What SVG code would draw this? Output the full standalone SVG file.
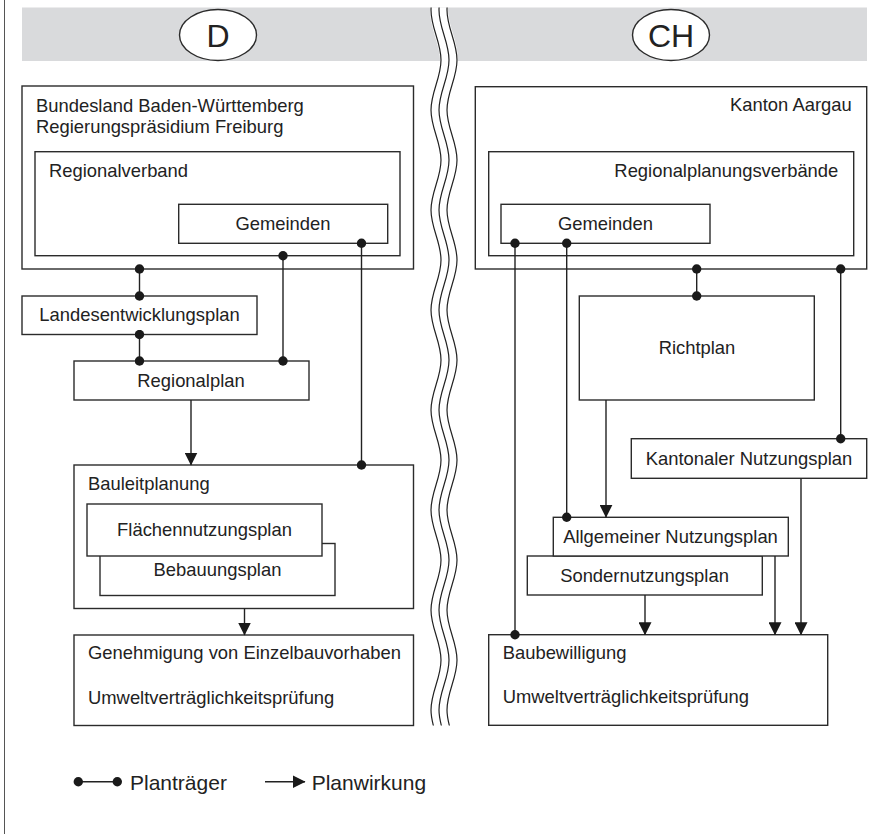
<svg xmlns="http://www.w3.org/2000/svg" width="875" height="834" viewBox="0 0 875 834">
<style>
.box{fill:#fff;stroke:#2b2b2b;stroke-width:1.4}
.t{font-family:"Liberation Sans",Arial,sans-serif;font-size:18.4px;fill:#222}
.c{text-anchor:middle}
.e{text-anchor:end}
.big{font-size:32px}
.leg{font-size:21px}
.pt{stroke:#222;stroke-width:1.4;fill:none;marker-start:url(#dot);marker-end:url(#dot)}
.pw{stroke:#222;stroke-width:1.4;fill:none;marker-end:url(#arr)}
.wave{fill:none;stroke:#222;stroke-width:1.2}
</style>
<defs>
<marker id="dot" viewBox="0 0 10 10" refX="5" refY="5" markerWidth="10" markerHeight="10" markerUnits="userSpaceOnUse"><circle cx="5" cy="5" r="4.7" fill="#1a1a1a"/></marker>
<marker id="arr" viewBox="0 0 13 13" refX="12.5" refY="6.5" markerWidth="13" markerHeight="13" orient="auto" markerUnits="userSpaceOnUse"><path d="M0,0 L13,6.5 L0,13 Z" fill="#1a1a1a"/></marker>
<path id="wv" d="M5,-40 C5,-22 -5,-8 -5,10 S5,42 5,60 S-5,92 -5,110 S5,142 5,160 S-5,192 -5,210 S5,242 5,260 S-5,292 -5,310 S5,342 5,360 S-5,392 -5,410 S5,442 5,460 S-5,492 -5,510 S5,542 5,560 S-5,592 -5,610 S5,642 5,660 S-5,692 -5,710 S5,742 5,760"/>
<clipPath id="wclip"><rect x="400" y="7.5" width="80" height="718"/></clipPath>
</defs>

<line x1="4.5" y1="0" x2="4.5" y2="834" stroke="#555" stroke-width="1"/>
<rect x="22" y="7.5" width="845" height="53.5" fill="#d9dadc"/>

<g id="break" clip-path="url(#wclip)">
<use href="#wv" transform="translate(444,0)" fill="none" stroke="#fff" stroke-width="18"/>
<use href="#wv" class="wave" transform="translate(436,0)"/>
<use href="#wv" class="wave" transform="translate(444,0)"/>
<use href="#wv" class="wave" transform="translate(452,0)"/>
</g>

<g id="hdr-D"><ellipse cx="218" cy="35" rx="38.5" ry="25.5" class="box"/><text x="218" y="47" class="t c big">D</text></g>
<g id="hdr-CH"><ellipse cx="671" cy="35" rx="38.5" ry="25.5" class="box"/><text x="671" y="47" class="t c big">CH</text></g>

<g id="bundesland"><rect x="22" y="86" width="391.5" height="183" class="box"/>
<text x="36" y="111.7" class="t">Bundesland Baden-Württemberg</text>
<text x="36" y="133" class="t">Regierungspräsidium Freiburg</text></g>
<g id="regionalverband"><rect x="35" y="151.7" width="365" height="104" class="box"/><text x="49" y="176.7" class="t">Regionalverband</text></g>
<g id="gemeinden-d"><rect x="178.7" y="204.3" width="209" height="39" class="box"/><text x="283" y="230" class="t c">Gemeinden</text></g>
<g id="landesentwicklungsplan"><rect x="22" y="296" width="235" height="38.5" class="box"/><text x="139.5" y="321" class="t c">Landesentwicklungsplan</text></g>
<g id="regionalplan"><rect x="74" y="361" width="235" height="39" class="box"/><text x="191" y="387" class="t c">Regionalplan</text></g>
<g id="bauleitplanung"><rect x="74" y="465" width="339.5" height="143.5" class="box"/><text x="88" y="489.5" class="t">Bauleitplanung</text></g>
<g id="bebauungsplan"><rect x="100" y="543.5" width="235" height="52" class="box"/><text x="217.5" y="576" class="t c">Bebauungsplan</text></g>
<g id="flaechennutzungsplan"><rect x="87" y="504" width="235" height="52" class="box"/><text x="204.5" y="536" class="t c">Flächennutzungsplan</text></g>
<g id="genehmigung"><rect x="74" y="635" width="339.5" height="90.5" class="box"/>
<text x="88" y="658.5" class="t">Genehmigung von Einzelbauvorhaben</text>
<text x="88" y="703.5" class="t">Umweltverträglichkeitsprüfung</text></g>

<g id="kanton"><rect x="475.3" y="86.7" width="391.4" height="182.3" class="box"/><text x="851.7" y="110.7" class="t e">Kanton Aargau</text></g>
<g id="regionalplanungsverbaende"><rect x="488.7" y="151.7" width="365" height="104" class="box"/><text x="838.3" y="176.7" class="t e">Regionalplanungsverbände</text></g>
<g id="gemeinden-ch"><rect x="501" y="204.3" width="209" height="39" class="box"/><text x="605.5" y="230" class="t c">Gemeinden</text></g>
<g id="richtplan"><rect x="579.3" y="296" width="235" height="104" class="box"/><text x="697" y="354" class="t c">Richtplan</text></g>
<g id="kantonaler"><rect x="631.3" y="438.7" width="235.4" height="39.6" class="box"/><text x="749" y="464.5" class="t c">Kantonaler Nutzungsplan</text></g>
<g id="sondernutzungsplan"><rect x="527.3" y="556" width="235" height="39" class="box"/><text x="644.5" y="581.7" class="t c">Sondernutzungsplan</text></g>
<g id="allgemeiner"><rect x="553.3" y="517.3" width="235" height="38.7" class="box"/><text x="670.5" y="542.7" class="t c">Allgemeiner Nutzungsplan</text></g>
<g id="baubewilligung"><rect x="488.7" y="634.7" width="339" height="90.6" class="box"/>
<text x="502.7" y="659.3" class="t">Baubewilligung</text>
<text x="502.7" y="703.3" class="t">Umweltverträglichkeitsprüfung</text></g>

<g id="connectors">
<line x1="139.5" y1="269" x2="139.5" y2="296" class="pt"/>
<line x1="139.5" y1="334.5" x2="139.5" y2="361" class="pt"/>
<line x1="283" y1="255.7" x2="283" y2="361" class="pt"/>
<line x1="361.5" y1="243.3" x2="361.5" y2="465" class="pt"/>
<line x1="696.7" y1="269" x2="696.7" y2="296" class="pt"/>
<line x1="840.7" y1="269" x2="840.7" y2="438.7" class="pt"/>
<line x1="515" y1="243.3" x2="515" y2="634.7" class="pt"/>
<line x1="566.7" y1="243.3" x2="566.7" y2="517.3" class="pt"/>
<line x1="191" y1="400" x2="191" y2="465" class="pw"/>
<line x1="244.5" y1="608.5" x2="244.5" y2="635" class="pw"/>
<line x1="606" y1="400" x2="606" y2="517.3" class="pw"/>
<line x1="645" y1="595" x2="645" y2="634.7" class="pw"/>
<line x1="775" y1="556" x2="775" y2="634.7" class="pw"/>
<line x1="801" y1="478.3" x2="801" y2="634.7" class="pw"/>
</g>

<g id="legend">
<line x1="78.3" y1="781.7" x2="117.3" y2="781.7" class="pt"/>
<text x="130" y="789.5" class="t leg">Planträger</text>
<line x1="265" y1="781.7" x2="305" y2="781.7" class="pw"/>
<text x="311.7" y="789.5" class="t leg">Planwirkung</text>
</g>
</svg>
